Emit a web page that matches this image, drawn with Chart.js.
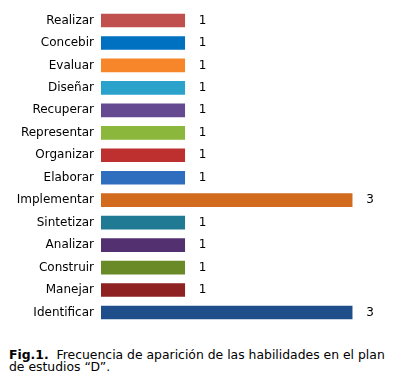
<!DOCTYPE html>
<html>
<head>
<meta charset="utf-8">
<script src="https://cdn.jsdelivr.net/npm/chart.js@4"></script>
<style>
  body { margin: 0; background: #fff; font-family: "DejaVu Sans", Verdana, sans-serif; }
  #wrap { position: relative; width: 397px; height: 331px; }
  #caption { margin: 18px 0 0 9px; width: 379px; font-size: 12.4px; line-height: 12px; color: #000; }
</style>
</head>
<body>
<div id="wrap"><canvas id="chart"></canvas></div>
<div id="caption"><b>Fig.1.</b>&nbsp; Frecuencia de aparición de las habilidades en el plan de estudios “D”.</div>
<script>
// données
const habilidades = ['Realizar', 'Concebir', 'Evaluar', 'Diseñar', 'Recuperar', 'Representar',
    'Organizar', 'Elaborar', 'Implementar', 'Sintetizar', 'Analizar', 'Construir', 'Manejar', 'Identificar'];
const frecuencias = [1, 1, 1, 1, 1, 1, 1, 1, 3, 1, 1, 1, 1, 3];
const colores = ['#C0504D', '#0070C0', '#F7862A', '#2AA2CB', '#664A91', '#8BB83C', '#BE2F2F',
    '#2F6EBF', '#D36B1E', '#217A94', '#533070', '#6A8A27', '#8E2222', '#1F4F8B'];

// étiquettes de valeur au bout des barres
const valueLabels = {
    id: 'valueLabels',
    afterDatasetsDraw(chart) {
        const ctx = chart.ctx;
        const meta = chart.getDatasetMeta(0);
        ctx.save();
        ctx.font = '12px "DejaVu Sans", sans-serif';
        ctx.fillStyle = '#000';
        ctx.textBaseline = 'middle';
        ctx.textAlign = 'left';
        meta.data.forEach((bar, i) => {
            ctx.fillText(frecuencias[i], bar.x + 14, bar.y);
        });
        ctx.restore();
    }
};

new Chart(document.getElementById('chart'), {
    type: 'bar',
    data: {
        labels: habilidades,
        datasets: [{
            data: frecuencias,
            backgroundColor: colores,
            barThickness: 13,
            borderWidth: 0
        }]
    },
    options: {
        indexAxis: 'y',
        responsive: true,
        maintainAspectRatio: false,
        animation: false,
        layout: { padding: { top: 9.3, bottom: 7.3, left: 0, right: 3 } },
        plugins: {
            legend: { display: false },
            tooltip: { enabled: false }
        },
        scales: {
            x: {
                display: false,
                min: 0,
                max: 3.5
            },
            y: {
                afterFit(scale) { scale.width = 101; },
                // la grille est cachée, mais tickLength garde l'écart des libellés
                grid: { display: false, drawTicks: true, tickLength: 7 },
                border: { display: false },
                ticks: {
                    color: '#000',
                    padding: 0,
                    font: { family: 'DejaVu Sans', size: 12 }
                }
            }
        }
    },
    plugins: [valueLabels]
});
</script>
</body>
</html>
